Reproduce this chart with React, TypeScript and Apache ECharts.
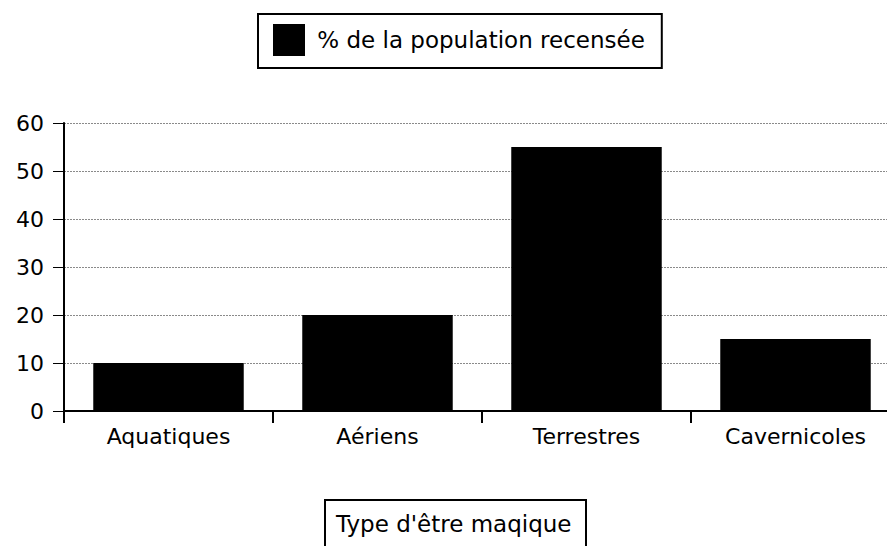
import React, { useEffect, useRef } from "react";
import * as echarts from "echarts";

const categories = ["Aquatiques", "Aériens", "Terrestres", "Cavernicoles"];
const values = [10, 20, 55, 15];
const seriesName = "% de la population recensée";
const xTitle = "Type d'être maqique";
const yMin = 0;
const yMax = 60;
const yInterval = 10;

const FONT = "DejaVu Sans";

export default function App() {
  const ref = useRef<HTMLDivElement>(null);
  useEffect(() => {
    if (!ref.current) return;
    const chart = echarts.init(ref.current, null, { renderer: "svg" });
    chart.setOption({
      animation: false,
      backgroundColor: "#fff",
      textStyle: { fontFamily: FONT },
      title: {
        text: xTitle,
        left: 325,
        top: 500,
        padding: [12, 15, 40, 11],
        borderColor: "#000",
        borderWidth: 2,
        textStyle: { fontFamily: FONT, fontSize: 23, fontWeight: "normal", color: "#000" },
      },
      legend: {
        left: 258,
        top: 14,
        padding: [10, 17, 12, 15],
        borderColor: "#000",
        borderWidth: 2,
        itemWidth: 32,
        itemHeight: 32,
        icon: "rect",
        formatter: (n: string) => " " + n,
        textStyle: { fontFamily: FONT, fontSize: 23, color: "#000" },
        data: [seriesName],
      },
      grid: { left: 64, top: 123, width: 836, height: 288, containLabel: false, outerBoundsMode: "none" },
      xAxis: {
        type: "category",
        data: categories,
        boundaryGap: true,
        axisLine: { lineStyle: { color: "#000", width: 2 } },
        axisTick: { show: true, inside: false, length: 12, alignWithLabel: false, lineStyle: { color: "#000", width: 2 } },
        axisLabel: { color: "#000", fontFamily: FONT, fontSize: 22, margin: 14 },
        splitLine: { show: false },
      },
      yAxis: {
        type: "value",
        min: yMin,
        max: yMax,
        interval: yInterval,
        axisLine: { show: true, lineStyle: { color: "#000", width: 2 } },
        axisTick: { show: true, inside: false, length: 11, lineStyle: { color: "#000", width: 1 } },
        axisLabel: { color: "#000", fontFamily: FONT, fontSize: 22, margin: 20 },
        splitLine: { show: true, lineStyle: { color: "#8a8a8a", width: 1, type: [2, 1] } },
      },
      series: [
        {
          name: seriesName,
          type: "bar",
          data: values,
          barCategoryGap: "28%",
          itemStyle: { color: "#000" },
        },
      ],
    });
    return () => chart.dispose();
  }, []);
  return <div ref={ref} style={{ position: "fixed", left: 0, top: 0, width: 887, height: 546 }} />;
}
